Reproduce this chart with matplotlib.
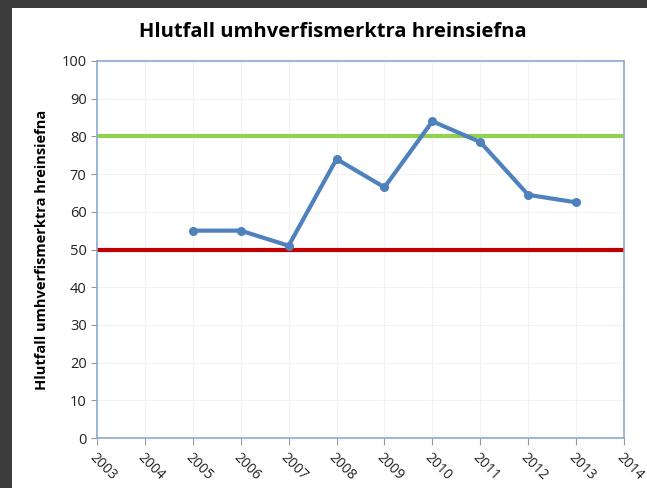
import matplotlib.pyplot as plt
from matplotlib.patches import Rectangle

years = [2005, 2006, 2007, 2008, 2009, 2010, 2011, 2012, 2013]
ratio = [55, 55, 51, 74, 66.5, 84, 78.5, 64.5, 62.5]
upper_limit = 80
lower_limit = 50
year_ticks = list(range(2003, 2015))
y_ticks = list(range(0, 101, 10))

plt.rcParams['font.family'] = ['Open Sans', 'DejaVu Sans']

fig = plt.figure(figsize=(6.47, 4.88), dpi=100)
fig.patch.set_facecolor('#3c3c3c')
fig.patches.append(Rectangle((12/647, 0), 1, 1 - 8/488, transform=fig.transFigure,
                             facecolor='white', edgecolor='none', zorder=-5))

ax = fig.add_axes([97/647, 50/488, 527/647, 377/488])
ax.set_zorder(2)
ax.set_xlim(2003, 2014)
ax.set_ylim(0, 100)

ax.axhline(upper_limit, color='#92d050', lw=3, zorder=2)
ax.axhline(lower_limit, color='#c00000', lw=3, zorder=2)
ax.plot(years, ratio, color='#4f81bd', lw=3, marker='o', ms=5.5, zorder=3)

ax.set_xticks(year_ticks)
ax.set_xticklabels([str(y) for y in year_ticks], rotation=-45, ha='left', va='top',
                   rotation_mode='anchor', fontsize=10, color='#222222')
ax.set_yticks(y_ticks)
ax.tick_params(axis='y', labelsize=10.5, colors='#222222', length=4, color='#999999')
ax.tick_params(axis='x', length=5, color='#999999')
ax.grid(True, color='#f2f2f2', lw=0.8)
ax.set_axisbelow(True)
for s in ax.spines.values():
    s.set_color('#8ea9cf')
    s.set_linewidth(1.2)

ax.set_ylabel('Hlutfall umhverfismerktra hreinsiefna', fontsize=10.5, fontweight='bold', labelpad=9)
fig.text(0.515, 0.935, 'Hlutfall umhverfismerktra hreinsiefna', ha='center', va='center',
         fontsize=14.5, fontweight='bold', zorder=5)

fig.savefig('out.png', dpi=100, facecolor=fig.get_facecolor())
